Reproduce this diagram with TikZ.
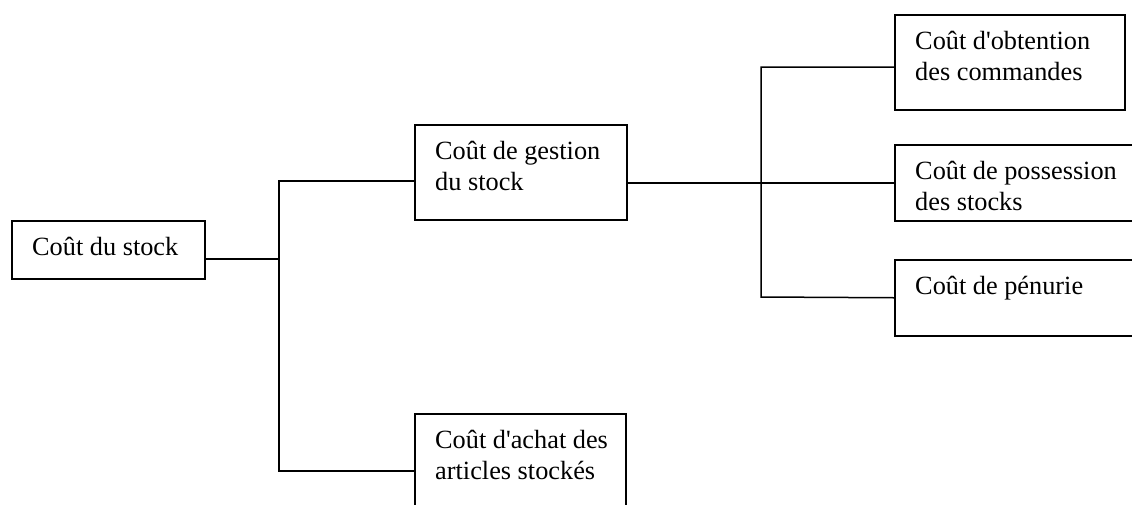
\documentclass[tikz,border=0pt]{standalone}
\usepackage{fontspec}
\setmainfont{Liberation Serif}[Ligatures=TeXOff]
\begin{document}
\begin{tikzpicture}[x=1pt,y=-1pt,
  box/.style={draw, line width=1.5pt, rectangle, inner sep=0pt, anchor=north west},
  lbl/.style={anchor=base west, inner sep=0pt, align=left, font=\fontsize{26.3}{31}\selectfont},
  conn/.style={line width=1.5pt}]
\useasboundingbox (0,0) rectangle (1132,504);
\clip (0,0) rectangle (1132,504);
% boxes
\node[box, minimum width=193pt, minimum height=58pt] (b1) at (11,220) {};
\node[box, minimum width=212pt, minimum height=95pt] (b2) at (414,124) {};
\node[box, minimum width=211pt, minimum height=120pt] (b3) at (414,413) {};
\node[box, minimum width=230pt, minimum height=95pt] (b4) at (894,14) {};
\node[box, minimum width=260pt, minimum height=76pt] (b5) at (894,144) {};
\node[box, minimum width=260pt, minimum height=76pt] (b6) at (894,259) {};
% labels (base = baseline of last line)
\node[lbl] (t1) at ([shift={(21,35)}]b1.north west) {Coût du stock};
\node[lbl] (t2) at ([shift={(21,66)}]b2.north west) {Coût de gestion\\du stock};
\node[lbl] (t3) at ([shift={(21,66)}]b3.north west) {Coût d'achat des\\articles stockés};
\node[lbl] (t4) at ([shift={(21,66)}]b4.north west) {Coût d'obtention\\des commandes};
\node[lbl] (t5) at ([shift={(21,66)}]b5.north west) {Coût de possession\\des stocks};
\node[lbl] (t6) at ([shift={(21,35)}]b6.north west) {Coût de pénurie};
% junctions
\coordinate (j1) at (279,259);
\coordinate (ja) at (279,181);
\coordinate (jb) at (279,471);
\coordinate (u1) at (761,67);
\coordinate (u2) at (761,297);
% connectors
\draw[conn] (b1.east |- j1) -- (j1);
\draw[conn] (b2.west |- ja) -- (ja) -- (jb) -- (b3.west |- jb);
\draw[conn] (b2.east |- b5.west) -- (b5.west);
\draw[conn] (b4.west |- u1) -- (u1) -- (u2) -- (b6.west);
\end{tikzpicture}
\end{document}
